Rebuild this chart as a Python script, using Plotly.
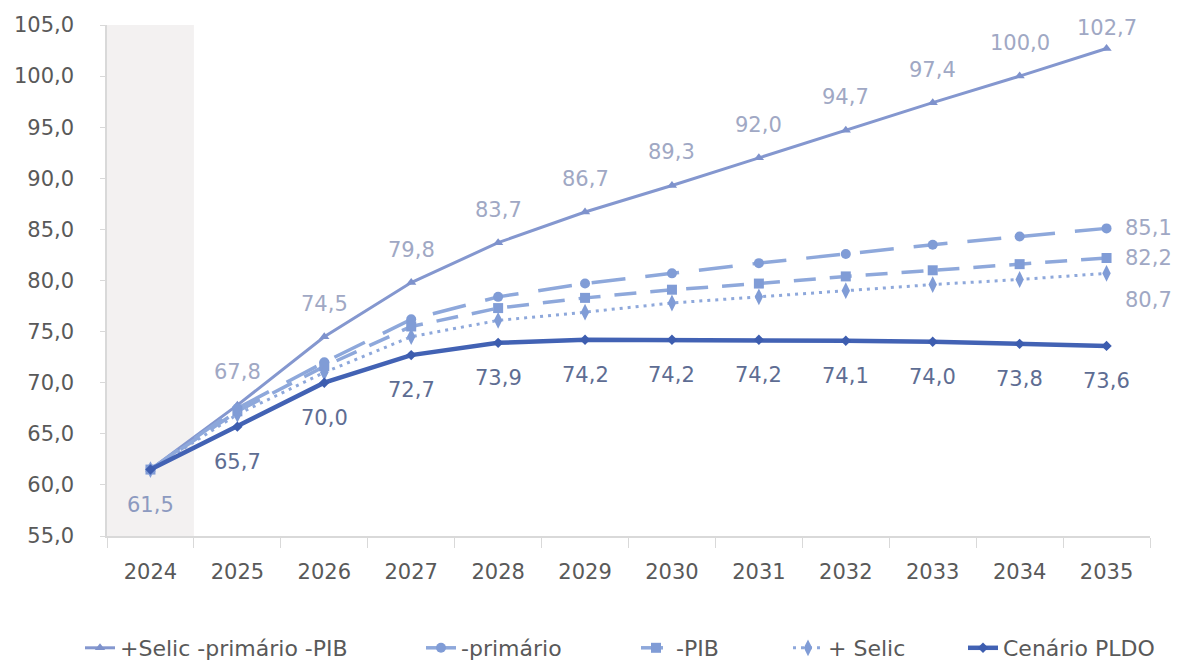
import plotly.graph_objects as go

years = ["2024", "2025", "2026", "2027", "2028", "2029", "2030", "2031", "2032", "2033", "2034", "2035"]
s_all = [61.5, 67.8, 74.5, 79.8, 83.7, 86.7, 89.3, 92.0, 94.7, 97.4, 100.0, 102.7]
s_prim = [61.5, 67.5, 72.0, 76.2, 78.4, 79.7, 80.7, 81.7, 82.6, 83.5, 84.3, 85.1]
s_pib = [61.5, 67.2, 71.6, 75.5, 77.3, 78.3, 79.1, 79.7, 80.4, 81.0, 81.6, 82.2]
s_selic = [61.5, 66.9, 71.0, 74.5, 76.1, 76.9, 77.8, 78.4, 79.0, 79.6, 80.1, 80.7]
s_pldo = [61.5, 65.7, 70.0, 72.7, 73.9, 74.2, 74.2, 74.2, 74.1, 74.0, 73.8, 73.6]
names = ["+Selic -primário -PIB", "-primário", "-PIB", "+ Selic", "Cenário PLDO"]
yticks = [55, 60, 65, 70, 75, 80, 85, 90, 95, 100, 105]

FONT = "DejaVu Sans"
FS = 21
LFS = 22
W, H = 1172, 654   # page body has an 8px margin
fmt = lambda v: f"{v:.1f}".replace(".", ",")

fig = go.Figure()
fig.add_trace(go.Scatter(x=years, y=s_all, name=names[0], mode="lines+markers", legend="legend",
                         line=dict(color="#8497CF", width=3),
                         marker=dict(symbol="triangle-up", size=9, color="#7E92CC")))
fig.add_trace(go.Scatter(x=years, y=s_prim, name=names[1], mode="lines+markers", legend="legend2",
                         line=dict(color="#8EA8DB", width=3.5, dash="34px,20px"),
                         marker=dict(symbol="circle", size=10, color="#809CD6")))
fig.add_trace(go.Scatter(x=years, y=s_pib, name=names[2], mode="lines+markers", legend="legend3",
                         line=dict(color="#8EA8DB", width=3.5, dash="22px,14px"),
                         marker=dict(symbol="square", size=10, color="#809CD6")))
fig.add_trace(go.Scatter(x=years, y=s_selic, name=names[3], mode="lines+markers", legend="legend4",
                         line=dict(color="#8EA8DB", width=3, dash="3px,5px"),
                         marker=dict(symbol="diamond-tall", size=12, color="#809CD6")))
fig.add_trace(go.Scatter(x=years, y=s_pldo, name=names[4], mode="lines+markers", legend="legend5",
                         line=dict(color="#4262B4", width=4.5),
                         marker=dict(symbol="diamond", size=8, color="#3D5DAF")))

annos = []
n = len(years)
# series 1 labels above (skip first year)
for i in range(1, n):
    annos.append(dict(x=i, y=s_all[i], xref="x", yref="y", text=fmt(s_all[i]), showarrow=False,
                      yshift=33 if i < n - 1 else 21,
                      font=dict(family=FONT, size=FS, color="#A0A8C4")))
# PLDO labels below
for i in range(n):
    annos.append(dict(x=i, y=s_pldo[i], xref="x", yref="y", text=fmt(s_pldo[i]), showarrow=False,
                      yshift=-35,
                      font=dict(family=FONT, size=FS, color="#5E6D93" if i else "#8C9AC0")))
# end labels
end_lab = [(s_prim[-1], 0), (s_pib[-1], 0), (s_selic[-1], -27)]
for v, ys in end_lab:
    annos.append(dict(x=n - 1, y=v, xref="x", yref="y", text=fmt(v), showarrow=False,
                      xanchor="left", xshift=16, yshift=ys,
                      font=dict(family=FONT, size=FS, color="#A0A8C4")))

# legend entries: text start positions (page px)
leg_text_x = [120, 461, 676, 828, 1003]
leg_y = 1 - (648 - 8) / H
legends = {}
for k, tx in enumerate(leg_text_x):
    key = "legend" if k == 0 else f"legend{k + 1}"
    legends[key] = dict(orientation="h", xref="container", yref="container",
                        x=(tx - 8 - 40) / W, xanchor="left", y=leg_y, yanchor="middle",
                        font=dict(family=FONT, size=LFS, color="#595959"),
                        bgcolor="rgba(0,0,0,0)")

fig.update_layout(
    width=W, height=H,
    margin=dict(l=99, r=30, t=17, b=126, autoexpand=False),
    paper_bgcolor="white", plot_bgcolor="white",
    font=dict(family=FONT, size=FS, color="#595959"),
    annotations=annos,
    shapes=[dict(type="rect", xref="x", yref="paper", x0=-0.5, x1=0.5, y0=0, y1=1,
                 fillcolor="#F3F1F1", line=dict(width=0), layer="below")],
    showlegend=True,
    **legends,
)
fig.update_xaxes(type="category", showline=True, linecolor="#D9D9D9", linewidth=1.5,
                 ticks="outside", tickson="boundaries", ticklen=10, tickcolor="#D9D9D9",
                 showgrid=False, tickfont=dict(family=FONT, size=FS, color="#595959"),
                 range=[-0.5, 11.5], ticklabelstandoff=16)
fig.update_yaxes(range=[55, 105], tickvals=yticks, ticktext=[fmt(v) for v in yticks],
                 showline=True, linecolor="#D9D9D9", linewidth=1.5, ticks="outside",
                 ticklen=5, tickcolor="#D9D9D9", showgrid=False, zeroline=False,
                 tickfont=dict(family=FONT, size=FS, color="#595959"), ticklabelstandoff=22)

fig.write_html("out.html")
